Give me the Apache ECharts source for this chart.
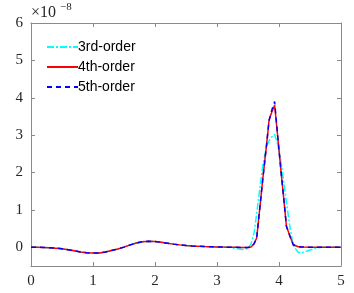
<!DOCTYPE html>
<html><head><meta charset="utf-8">
<script src="https://cdn.jsdelivr.net/npm/echarts@6/dist/echarts.min.js"></script>
<style>html,body{margin:0;padding:0;background:#fff}#c{width:354px;height:293px}</style>
</head><body><div id="c"></div>
<script>
// x samples
const xs = [0,0.1,0.2,0.3,0.4,0.5,0.6,0.7,0.8,0.9,1.0,1.1,1.2,1.3,1.4,1.5,1.6,1.7,1.8,1.9,2.0,2.1,2.2,2.3,2.4,2.5,2.6,2.7,2.8,2.9,3.0,3.1,3.2,3.3,3.4,3.5,
  3.55,3.6,3.64,3.7,3.74,3.8,3.84,3.88,3.93,3.98,4.04,4.08,4.12,4.18,4.23,4.3,4.35,4.4,4.5,4.6,4.7,4.8,4.9,5.0];
const third = [0,0,-0.003,-0.01,-0.022,-0.04,-0.065,-0.095,-0.125,-0.145,-0.155,-0.15,-0.125,-0.085,-0.045,0.005,0.065,0.115,0.15,0.16,0.155,0.135,0.11,0.085,0.065,0.05,0.037,0.027,0.02,0.014,0.01,0.006,0.0,-0.03,-0.06,-0.04,
  0.1,0.4,0.9,1.7,2.2,2.7,2.85,2.95,3.02,2.75,2.2,1.7,1.2,0.5,0.05,-0.12,-0.16,-0.13,-0.07,-0.02,0,0,0,0];
const fourth = [0,0,-0.003,-0.01,-0.022,-0.04,-0.065,-0.095,-0.125,-0.145,-0.155,-0.15,-0.125,-0.085,-0.045,0.005,0.065,0.115,0.15,0.16,0.155,0.135,0.11,0.085,0.065,0.05,0.037,0.027,0.02,0.014,0.01,0.006,0.003,0.0,-0.003,-0.003,
  0.01,0.1,0.25,1.2,1.85,2.75,3.4,3.6,3.8,2.95,1.9,1.25,0.56,0.28,0.07,0.02,0.01,0.005,0,0,0,0,0,0];
const fifth = [0,0,-0.003,-0.01,-0.022,-0.04,-0.065,-0.095,-0.125,-0.145,-0.155,-0.15,-0.125,-0.085,-0.045,0.005,0.065,0.115,0.15,0.16,0.155,0.135,0.11,0.085,0.065,0.05,0.037,0.027,0.02,0.014,0.01,0.006,0.003,0.0,-0.003,-0.003,
  0.01,0.1,0.25,1.2,1.85,2.75,3.4,3.65,3.9,2.95,1.9,1.25,0.56,0.28,0.07,0.02,0.01,0.005,0,0,0,0,0,0];
const seriesNames = ['3rd-order','4th-order','5th-order'];
const xTicks = [0,1,2,3,4,5];
const yTicks = [0,1,2,3,4,5,6];
const exponentLabel = ['\u00d710', '\u22128'];

const pair = v => xs.map((x,i)=>[x,v[i]]);
const serif = 'Liberation Serif';
const axisCol = '#8a8a8a', txtCol = '#262626';
const baseAxis = {
  axisLine:{show:true,onZero:false,lineStyle:{color:axisCol,width:1}},
  splitLine:{show:false},
};
const chart = echarts.init(document.getElementById('c'), null, {renderer:'canvas'});
chart.setOption({
  animation:false,
  backgroundColor:'#fff',
  grid:{left:31,right:13,top:23,bottom:27},
  graphic:[
    {type:'text',left:31,top:5,style:{text:exponentLabel[0],fontSize:16,fontFamily:serif,fill:txtCol}},
    {type:'text',left:60,top:2,style:{text:exponentLabel[1],fontSize:11,fontFamily:serif,fill:txtCol}}
  ],
  legend:{left:41,top:35,orient:'vertical',itemWidth:31,itemHeight:14,itemGap:6,
    itemStyle:{opacity:0},
    textStyle:{fontFamily:'Liberation Sans',fontSize:14,color:'#000',padding:[0,0,0,-5]},
    data:seriesNames},
  xAxis:[
    Object.assign({type:'value',min:0,max:5,interval:1,position:'bottom',
      axisTick:{inside:true,length:4,lineStyle:{color:axisCol}},
      axisLabel:{fontFamily:serif,fontSize:15,color:txtCol,margin:8,customValues:xTicks}},baseAxis),
    Object.assign({type:'value',min:0,max:5,interval:1,position:'top',
      axisTick:{inside:true,length:4,lineStyle:{color:axisCol}},
      axisLabel:{show:false}},baseAxis)
  ],
  yAxis:[
    Object.assign({type:'value',min:-0.5,max:6,position:'left',
      axisTick:{inside:true,length:4,customValues:yTicks,lineStyle:{color:axisCol}},
      axisLabel:{fontFamily:serif,fontSize:15,color:txtCol,margin:8,customValues:yTicks}},baseAxis),
    Object.assign({type:'value',min:-0.5,max:6,position:'right',
      axisTick:{inside:true,length:4,customValues:yTicks,lineStyle:{color:axisCol}},
      axisLabel:{show:false}},baseAxis)
  ],
  series:[
    {name:seriesNames[0],type:'line',data:pair(third),showSymbol:false,symbol:'none',
     lineStyle:{color:'#00ffff',width:1.5,type:[7,2,2,2]},itemStyle:{color:'#00ffff'}},
    {name:seriesNames[1],type:'line',data:pair(fourth),showSymbol:false,symbol:'none',
     lineStyle:{color:'#ff0000',width:1.5},itemStyle:{color:'#ff0000'}},
    {name:seriesNames[2],type:'line',data:pair(fifth),showSymbol:false,symbol:'none',
     lineStyle:{color:'#0000ff',width:1.5,type:[5,4]},itemStyle:{color:'#0000ff'}}
  ]
});
</script></body></html>
